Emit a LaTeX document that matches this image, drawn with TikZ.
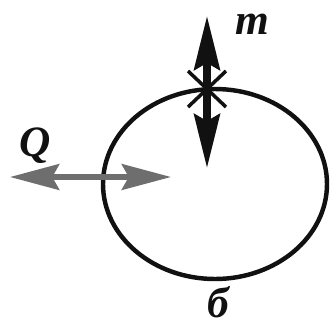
\documentclass[tikz,border=0pt]{standalone}
\usepackage{fontspec}
\setmainfont{Liberation Serif}
\usetikzlibrary{arrows.meta}
\definecolor{ink}{HTML}{111111}
\definecolor{heat}{HTML}{6E6E6E}
\tikzset{
  orbit/.style={draw=ink, line width=3.8pt},
  massflow/.style={{Stealth[length=46pt,width=22pt,inset=6pt]}-{Stealth[length=46pt,width=22pt,inset=6pt]}, draw=ink, fill=ink, line width=6pt},
  heatflow/.style={{Stealth[length=42pt,width=22pt,inset=6pt]}-{Stealth[length=42pt,width=22pt,inset=6pt]}, draw=heat, fill=heat, line width=4.5pt},
  cross/.style={draw=ink, line width=3pt},
  lbl/.style={font=\fontsize{37}{39}\selectfont\bfseries\itshape, text=ink, inner sep=0pt}
}
\begin{document}
\begin{tikzpicture}[x=0.03cm,y=-0.03cm]
  \useasboundingbox (0,0) rectangle (331,325);
  % system boundary
  \draw[orbit] (215,184) ellipse [x radius=112, y radius=95];
  % mass exchange through the boundary
  \coordinate (mtop) at (207,16);
  \coordinate (mbot) at (207,168);
  \coordinate (mx) at (207,89);
  \draw[massflow] (mtop) -- (mbot);
  \draw[cross] ([shift={(-19,-18)}]mx) -- ([shift={(19,18)}]mx);
  \draw[cross] ([shift={(-19,18)}]mx) -- ([shift={(19,-18)}]mx);
  % heat exchange
  \coordinate (qleft) at (10,177);
  \coordinate (qright) at (171,177);
  \draw[heatflow] (qleft) -- (qright);
  % labels
  \node[lbl] (q) at (35,146) {Q};
  \node[lbl] (m) at (252,24) {m};
  \node[lbl] (b) at (218,302) {б};
\end{tikzpicture}
\end{document}
